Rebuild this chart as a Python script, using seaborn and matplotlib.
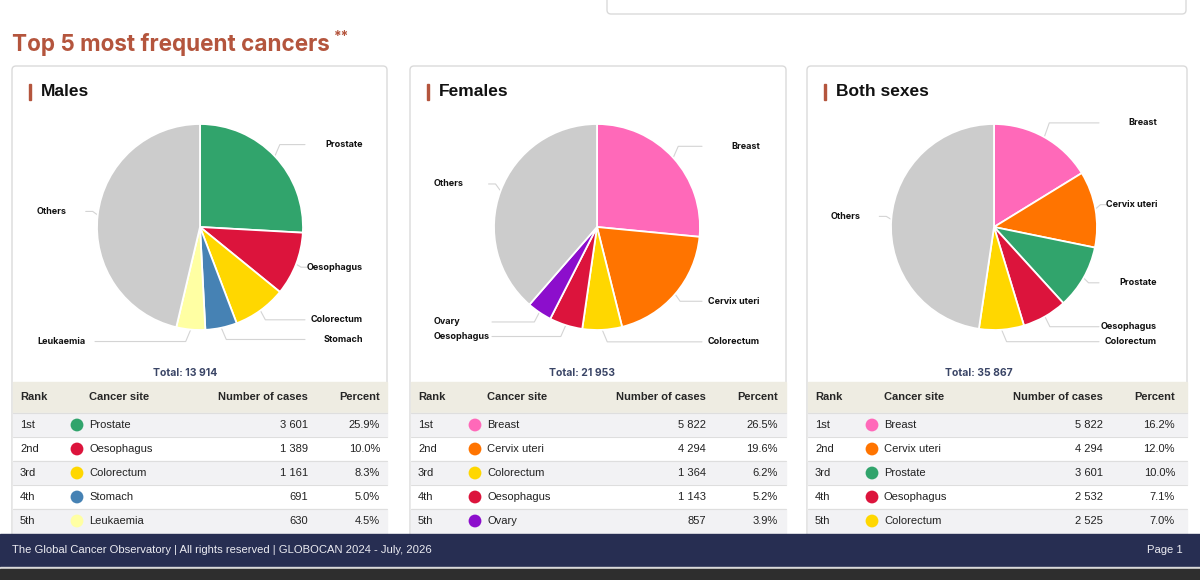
import matplotlib
matplotlib.use("Agg")
import matplotlib.pyplot as plt
from matplotlib.patches import FancyBboxPatch, Rectangle
import numpy as np
import seaborn as sns

panels = ["Males", "Females", "Both sexes"]
totals = [13914, 21953, 35867]

males_sites = ["Prostate", "Oesophagus", "Colorectum", "Stomach", "Leukaemia"]
males_cases = [3601, 1389, 1161, 691, 630]

females_sites = ["Breast", "Cervix uteri", "Colorectum", "Oesophagus", "Ovary"]
females_cases = [5822, 4294, 1364, 1143, 857]

both_sites = ["Breast", "Cervix uteri", "Prostate", "Oesophagus", "Colorectum"]
both_cases = [5822, 4294, 3601, 2532, 2525]

ranks = ["1st", "2nd", "3rd", "4th", "5th"]

site_colors = {
    "Prostate": "#31A46C", "Oesophagus": "#DC143C", "Colorectum": "#FFD700",
    "Stomach": "#4682B4", "Leukaemia": "#FFFFA3", "Breast": "#FF69B9",
    "Cervix uteri": "#FF7400", "Ovary": "#8C0ECC", "Others": "#CCCCCC",
}

# ---- layout (pixels, y measured from the top) ----
W, H = 1200, 580
ACCENT = "#B4553D"
NAVY = "#272E52"
card_x = [12, 410, 807]
card_w = [375, 376, 380]
card_top = 66
pie_cx = [200, 597, 994]
pie_cy = 227
pie_r = 103


def Y(y):
    return H - y


def fmt(n):
    return f"{n:,}".replace(",", " ")


sns.set_theme(style="white")
plt.rcParams["font.family"] = ["Liberation Sans", "DejaVu Sans"]

fig = plt.figure(figsize=(W / 100, H / 100), dpi=100)
fig.patch.set_facecolor("white")
ax = fig.add_axes([0, 0, 1, 1])

# fragment of the card above
ax.add_patch(FancyBboxPatch((607, Y(14)), 579, 40, boxstyle="round,pad=0,rounding_size=4",
                            fc="white", ec="#DADADA", lw=1))

ax.text(12, Y(44), "Top 5 most frequent cancers", color=ACCENT, fontsize=16.2,
        fontweight="bold", family="Inter", va="center", ha="left")
ax.text(334, Y(37), "**", color=ACCENT, fontsize=10, fontweight="bold",
        family="Inter", va="center", ha="left")

all_sites = [males_sites, females_sites, both_sites]
all_cases = [males_cases, females_cases, both_cases]

dot_x, dot_y, dot_site = [], [], []

for k in range(3):
    x0, w = card_x[k], card_w[k]
    cx = pie_cx[k]
    sites, cases, total = all_sites[k], all_cases[k], totals[k]

    ax.add_patch(FancyBboxPatch((x0, Y(560)), w, 560 - card_top,
                                boxstyle="round,pad=0,rounding_size=4",
                                fc="white", ec="#DADADA", lw=1, zorder=1))
    ax.add_patch(Rectangle((x0 + 17, Y(100)), 2.2, 16, color=ACCENT, zorder=2))
    ax.text(x0 + 29, Y(92), panels[k], fontsize=12.5, fontweight="bold",
            color="#111111", va="center", ha="left", zorder=2)

    # pie: top five plus the rest
    labels = sites + ["Others"]
    values = cases + [total - sum(cases)]
    ax.pie(values, colors=[site_colors[s] for s in labels], startangle=90,
           counterclock=False, center=(cx, Y(pie_cy)), radius=pie_r, frame=True,
           wedgeprops=dict(edgecolor="white", linewidth=1.3, zorder=3))

    fr = np.array(values) / sum(values)
    mids = (np.cumsum(fr) - fr / 2) * 2 * np.pi
    for lab, a in zip(labels, mids):
        side = 1 if np.sin(a) > 0 else -1
        ex = cx + pie_r * np.sin(a)
        ey = pie_cy - pie_r * np.cos(a)
        ly = pie_cy - 117 * np.cos(a) - 2
        end_x = cx + side * max(pie_r + 2, side * (ex - cx) + 12)
        bx = ex + side * 5
        if side * (bx - end_x) > 0:
            bx = end_x
        ax.plot([ex, bx, end_x], [Y(ey), Y(ly), Y(ly)], color="#D4D4D4",
                lw=0.8, zorder=2)
        ax.text(cx + side * 163, Y(ly), lab, fontsize=6.5, fontweight="bold",
                family="Inter", color="#111111", va="center",
                ha="right" if side > 0 else "left", zorder=4)

    ax.text(cx - 15, Y(373), f"Total: {fmt(total)}", fontsize=7.5, fontweight="bold",
            family="Inter", color="#3A4566", ha="center", va="center")

    # table
    ax.add_patch(Rectangle((x0 + 0.5, Y(413)), w - 1, 31, color="#EEECE2", zorder=2))
    hy = Y(397)
    ax.text(x0 + 8, hy, "Rank", fontsize=8, fontweight="bold", va="center", zorder=3)
    ax.text(x0 + 77, hy, "Cancer site", fontsize=8, fontweight="bold", va="center", zorder=3)
    ax.text(x0 + 296, hy, "Number of cases", fontsize=8, fontweight="bold",
            va="center", ha="right", zorder=3)
    ax.text(x0 + 368, hy, "Percent", fontsize=8, fontweight="bold",
            va="center", ha="right", zorder=3)
    for i in range(5):
        top = 413 + 24 * i
        ax.add_patch(Rectangle((x0 + 0.5, Y(top + 24)), w - 1, 24,
                               color="#F2F2F4" if i % 2 == 0 else "white", zorder=2))
        ax.plot([x0 + 0.5, x0 + w - 0.5], [Y(top), Y(top)], color="#DEDEDE", lw=0.8, zorder=2)
        ry = Y(top + 12)
        ax.text(x0 + 8, ry, ranks[i], fontsize=8, color="#222222", va="center", zorder=3)
        ax.text(x0 + 77, ry, sites[i], fontsize=8, color="#222222", va="center", zorder=3)
        ax.text(x0 + 296, ry, fmt(cases[i]), fontsize=8, color="#222222",
                va="center", ha="right", zorder=3)
        ax.text(x0 + 368, ry, f"{100 * cases[i] / total:.1f}%", fontsize=8,
                color="#222222", va="center", ha="right", zorder=3)
        dot_x.append(x0 + 65)
        dot_y.append(ry)
        dot_site.append(sites[i])

sns.scatterplot(x=dot_x, y=dot_y, hue=dot_site, palette=site_colors, s=85,
                linewidth=0, legend=False, ax=ax, zorder=4)

# footer
ax.add_patch(Rectangle((0, Y(567)), W, 33, color=NAVY, zorder=6))
ax.add_patch(Rectangle((0, Y(569)), W, 2, color="#D9D9D9", zorder=6))
ax.add_patch(Rectangle((0, 0), W, 11, color="#2E2E2E", zorder=6))
ax.text(12, Y(550), "The Global Cancer Observatory | All rights reserved | GLOBOCAN 2024 - July, 2026",
        fontsize=8.1, color="#ECECF2", va="center", ha="left", zorder=7)
ax.text(1183, Y(550), "Page 1", fontsize=8.1, color="#ECECF2", va="center", ha="right", zorder=7)

ax.set_xlim(0, W)
ax.set_ylim(0, H)
ax.set_aspect("auto")
ax.axis("off")

fig.savefig("out.png", dpi=100, facecolor="white")
